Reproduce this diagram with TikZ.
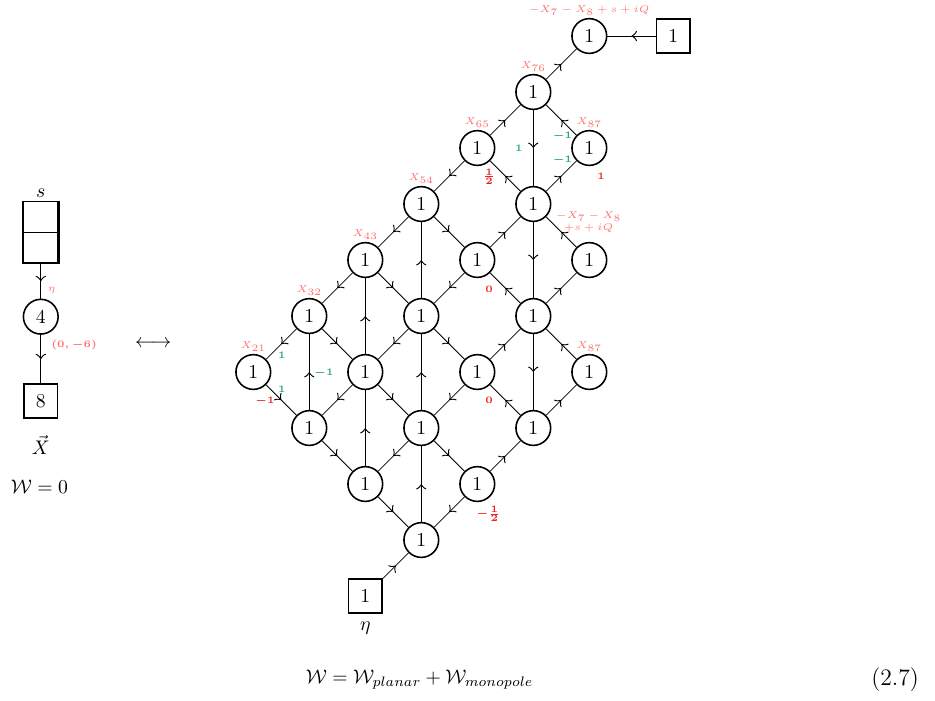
\documentclass[tikz,border=0pt]{standalone}
\usepackage{amsmath,amssymb}
\usepackage{tikz}
\usetikzlibrary{decorations.markings}
\definecolor{xred}{RGB}{255,110,110}
\definecolor{cred}{RGB}{235,35,35}
\definecolor{cgreen}{RGB}{40,165,120}

\tikzset{
  gauge/.style={draw, circle, thick, minimum size=0.62cm, inner sep=0pt},
  flav/.style={draw, rectangle, thick, minimum size=0.6cm, inner sep=0pt},
  ybox/.style={draw, rectangle, thick, minimum width=0.61cm, minimum height=0.55cm, inner sep=0pt},
  midarrow/.style={decoration={markings, mark=at position 0.5 with {\arrow[scale=1.5]{to}}}, postaction={decorate}},
  xlab/.style={font=\tiny, text=xred, inner sep=1pt},
  rch/.style={font=\tiny\boldmath, text=cred, inner sep=0pt},
  gch/.style={font=\tiny\boldmath, text=cgreen, inner sep=0pt}
}

\begin{document}
\begin{tikzpicture}
	\useasboundingbox (-4.523,-2.857) rectangle (12.173,9.643);

	% left quiver
	\node[ybox] (s1) at (-3.795,5.77) {};
	\node[ybox] (s2) at (-3.795,5.22) {};
	\draw[very thick] (s1.north west) -- (s2.south west);
	\draw[very thick] (s1.north east) -- (s2.south east);
	\node (sl) at (-3.795,6.19) {$s$};
	\node[gauge] (c4) at (-3.795,3.988) {4};
	\node[flav] (f8) at (-3.795,2.482) {8};
	\draw[midarrow] (s2) -- (c4);
	\draw[midarrow] (c4) -- (f8);
	\node[xlab] (eta1) at (-3.6,4.46) {$\eta$};
	\node[rch, text=xred] (ch1) at (-3.2,3.48) {$(0,-6)$};
	\node[inner sep=1pt] (xv) at (-3.795,1.7) {$\vec{X}$};
	\node (w0) at (-3.82,0.95) {$\mathcal{W}=0$};
	\node (lr) at (-1.786,3.5) {$\longleftrightarrow$};

	% planar quiver
	\node[gauge, label={[xlab]above:$X_{21}$}] (g03) at (0,3) {1};
	\node[gauge, label={[xlab]above:$X_{32}$}] (g14) at (1,4) {1};
	\node[gauge] (g12) at (1,2) {1};
	\node[gauge, label={[xlab]above:$X_{43}$}] (g25) at (2,5) {1};
	\node[gauge] (g23) at (2,3) {1};
	\node[gauge] (g21) at (2,1) {1};
	\node[gauge, label={[xlab]above:$X_{54}$}] (g36) at (3,6) {1};
	\node[gauge] (g34) at (3,4) {1};
	\node[gauge] (g32) at (3,2) {1};
	\node[gauge] (g30) at (3,0) {1};
	\node[gauge, label={[xlab]above:$X_{65}$}] (g47) at (4,7) {1};
	\node[gauge] (g45) at (4,5) {1};
	\node[gauge] (g43) at (4,3) {1};
	\node[gauge] (g41) at (4,1) {1};
	\node[gauge, label={[xlab]above:$X_{76}$}] (g58) at (5,8) {1};
	\node[gauge] (g56) at (5,6) {1};
	\node[gauge] (g54) at (5,4) {1};
	\node[gauge] (g52) at (5,2) {1};
	\node[gauge, label={[xlab]above:$-X_7-X_8+s+iQ$}] (g69) at (6,9) {1};
	\node[gauge, label={[xlab]above:$X_{87}$}] (g67) at (6,7) {1};
	\node[gauge] (g65) at (6,5) {1};
	\node[gauge, label={[xlab]above:$X_{87}$}] (g63) at (6,3) {1};
	\node[flav] (ft) at (7.5,9) {1};
	\node[flav] (fb) at (2,-1) {1};
	\node (etab) at (2,-1.57) {$\eta$};

	\draw[midarrow] (ft) -- (g69);
	\draw[midarrow] (fb) -- (g30);

	\draw[midarrow] (g12) -- (g14);
	\draw[midarrow] (g23) -- (g25);
	\draw[midarrow] (g21) -- (g23);
	\draw[midarrow] (g34) -- (g36);
	\draw[midarrow] (g32) -- (g34);
	\draw[midarrow] (g30) -- (g32);
	\draw[midarrow] (g58) -- (g56);
	\draw[midarrow] (g56) -- (g54);
	\draw[midarrow] (g54) -- (g52);

	\draw[midarrow] (g14) -- (g03);
	\draw[midarrow] (g03) -- (g12);
	\draw[midarrow] (g25) -- (g14);
	\draw[midarrow] (g14) -- (g23);
	\draw[midarrow] (g23) -- (g12);
	\draw[midarrow] (g12) -- (g21);
	\draw[midarrow] (g36) -- (g25);
	\draw[midarrow] (g25) -- (g34);
	\draw[midarrow] (g34) -- (g23);
	\draw[midarrow] (g23) -- (g32);
	\draw[midarrow] (g32) -- (g21);
	\draw[midarrow] (g21) -- (g30);
	\draw[midarrow] (g47) -- (g36);
	\draw[midarrow] (g36) -- (g45);
	\draw[midarrow] (g45) -- (g34);
	\draw[midarrow] (g34) -- (g43);
	\draw[midarrow] (g43) -- (g32);
	\draw[midarrow] (g32) -- (g41);
	\draw[midarrow] (g41) -- (g30);
	\draw[midarrow] (g47) -- (g58);
	\draw[midarrow] (g56) -- (g47);
	\draw[midarrow] (g45) -- (g56);
	\draw[midarrow] (g54) -- (g45);
	\draw[midarrow] (g43) -- (g54);
	\draw[midarrow] (g52) -- (g43);
	\draw[midarrow] (g41) -- (g52);
	\draw[midarrow] (g58) -- (g69);
	\draw[midarrow] (g67) -- (g58);
	\draw[midarrow] (g56) -- (g67);
	\draw[midarrow] (g65) -- (g56);
	\draw[midarrow] (g54) -- (g65);
	\draw[midarrow] (g63) -- (g54);
	\draw[midarrow] (g52) -- (g63);

	% charges
	\node[xlab, align=center] (l56) at (5.99,5.68) {$-X_7-X_8$\\$+s+iQ$};
	\node[gch] (q1) at (4.74,6.99) {$1$};
	\node[gch] (q2) at (5.52,7.21) {$-1$};
	\node[gch] (q3) at (5.52,6.79) {$-1$};
	\node[rch] (q4) at (6.21,6.49) {$1$};
	\node[rch] (q5) at (4.21,6.49) {$\frac{1}{2}$};
	\node[rch] (q6) at (4.21,4.48) {$0$};
	\node[rch] (q7) at (4.21,2.49) {$0$};
	\node[rch] (q8) at (4.2,0.46) {$-\frac{1}{2}$};
	\node[gch] (q9) at (0.51,3.29) {$1$};
	\node[gch] (q10) at (0.51,2.69) {$1$};
	\node[rch] (q11) at (0.21,2.49) {$-1$};
	\node[gch] (q12) at (1.26,2.99) {$-1$};

	\node (wfull) at (2.97,-2.5) {$\mathcal{W}=\mathcal{W}_{planar}+\mathcal{W}_{monopole}$};
	\node[font=\large] (eqn) at (11.46,-2.5) {(2.7)};
\end{tikzpicture}
\end{document}
